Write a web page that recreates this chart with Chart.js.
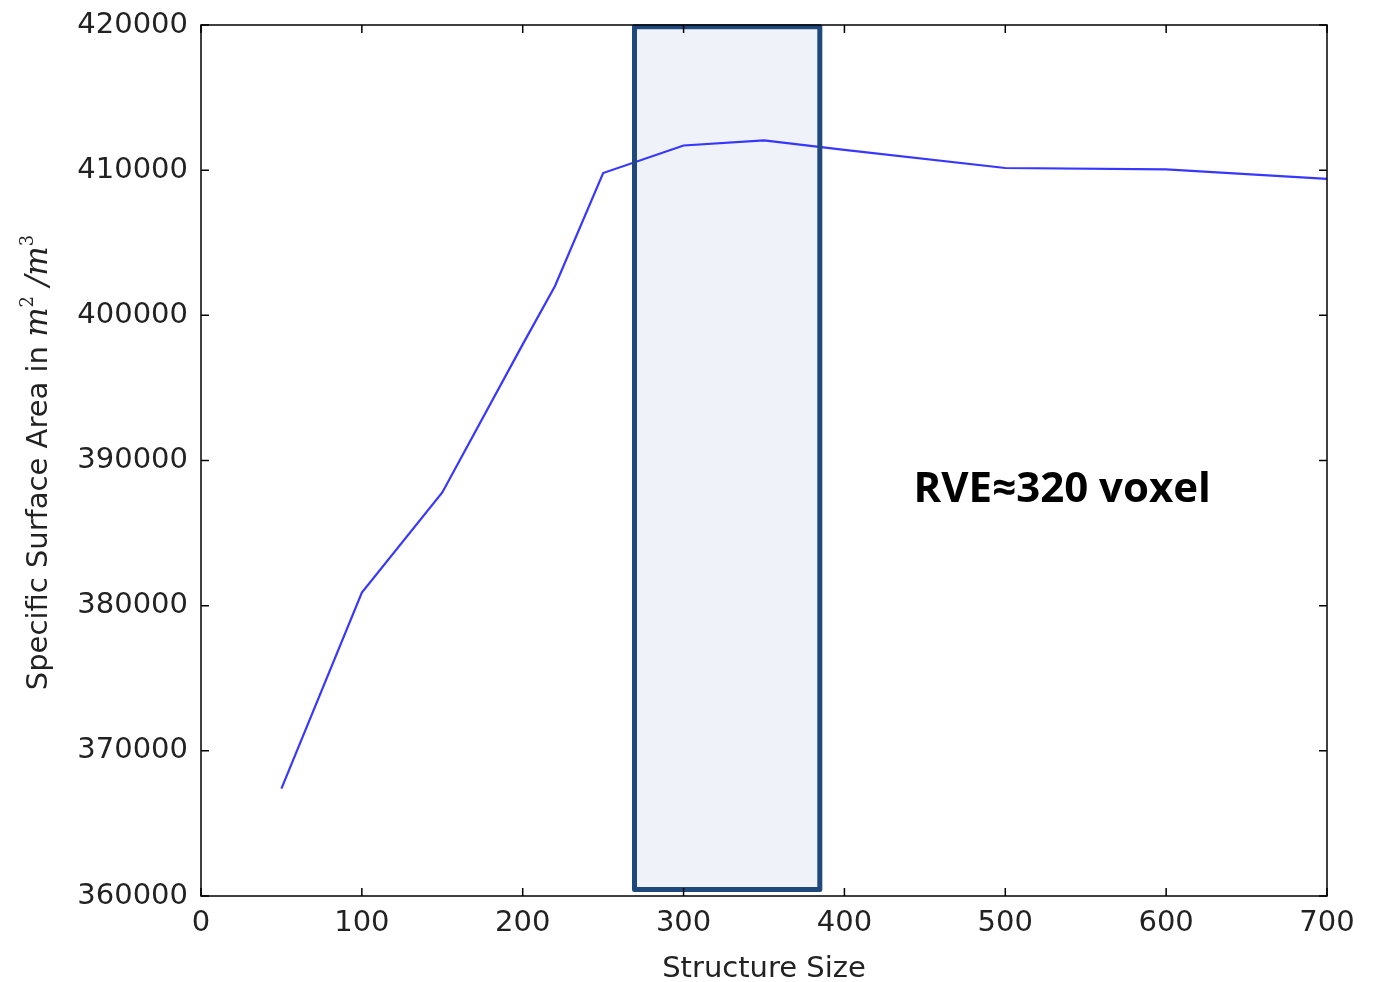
<!DOCTYPE html>
<html>
<head>
<meta charset="utf-8">
<script src="https://cdn.jsdelivr.net/npm/chart.js@4/dist/chart.umd.min.js"></script>
<style>
  html, body { margin: 0; padding: 0; background: #fff; }
  #wrap { width: 1376px; height: 982px; }
</style>
</head>
<body>
<div id="wrap"><canvas id="chart" width="1376" height="982"></canvas></div>
<script>
// structure size vs specific surface area
const sizes = [50, 100, 150, 200, 220, 250, 300, 350, 400, 500, 600, 700];
const surface = [367400, 380900, 387800, 398000, 402000, 409800, 411700, 412050, 411400, 410150, 410050, 409400];
const xTicks = [0, 100, 200, 300, 400, 500, 600, 700];
const yTicks = [360000, 370000, 380000, 390000, 400000, 410000, 420000];
// highlighted RVE range (data units)
const boxX = [269.5, 384.7];
const boxY = [360450, 419880];
const noteText = 'RVE\u2248320 voxel';
const notePos = [443, 387170];

const FONT = "'DejaVu Sans', sans-serif";

// inner ticks + frame, matplotlib style
const framePlugin = {
  id: 'frame',
  afterDraw(chart) {
    const { ctx, chartArea: a, scales: { x, y } } = chart;
    ctx.save();
    ctx.strokeStyle = '#000';
    ctx.lineWidth = 1.5;
    ctx.beginPath();
    xTicks.forEach(v => {
      const px = x.getPixelForValue(v);
      ctx.moveTo(px, a.bottom); ctx.lineTo(px, a.bottom - 8);
      ctx.moveTo(px, a.top); ctx.lineTo(px, a.top + 8);
    });
    yTicks.forEach(v => {
      const py = y.getPixelForValue(v);
      ctx.moveTo(a.left, py); ctx.lineTo(a.left + 8, py);
      ctx.moveTo(a.right, py); ctx.lineTo(a.right - 8, py);
    });
    ctx.stroke();
    ctx.strokeRect(a.left, a.top, a.right - a.left, a.bottom - a.top);
    ctx.restore();
  }
};

const boxPlugin = {
  id: 'rveBox',
  beforeDatasetsDraw(chart) {
    const { ctx, scales: { x, y } } = chart;
    const x0 = x.getPixelForValue(boxX[0]), x1 = x.getPixelForValue(boxX[1]);
    const y0 = y.getPixelForValue(boxY[1]), y1 = y.getPixelForValue(boxY[0]);
    ctx.save();
    ctx.fillStyle = '#eff3f9';
    ctx.fillRect(x0, y0, x1 - x0, y1 - y0);
    ctx.restore();
  },
  afterDatasetsDraw(chart) {
    const { ctx, scales: { x, y } } = chart;
    const x0 = x.getPixelForValue(boxX[0]), x1 = x.getPixelForValue(boxX[1]);
    const y0 = y.getPixelForValue(boxY[1]), y1 = y.getPixelForValue(boxY[0]);
    ctx.save();
    ctx.strokeStyle = '#1f497d';
    ctx.lineWidth = 5;
    ctx.lineJoin = 'round';
    ctx.strokeRect(x0, y0, x1 - x0, y1 - y0);
    // annotation text
    ctx.fillStyle = '#000';
    ctx.font = "bold 42px 'Open Sans', sans-serif";
    ctx.textAlign = 'left';
    ctx.textBaseline = 'alphabetic';
    ctx.fillText(noteText, x.getPixelForValue(notePos[0]), y.getPixelForValue(notePos[1]));
    ctx.restore();
  }
};

// y title with math part: "Specific Surface Area in m^2/m^3"
const yTitlePlugin = {
  id: 'yTitle',
  afterDraw(chart) {
    const { ctx, chartArea: a } = chart;
    const sans = '29px ' + FONT;
    const it = "italic 31px 'DejaVu Serif', serif";
    const sup = "18px 'DejaVu Serif', serif";
    const parts = [
      { t: 'Specific Surface Area in ', f: sans, dy: 0 },
      { t: 'm', f: it, dy: 0 },
      { t: '2', f: sup, dy: -14 },
      { t: ' /', f: it, dy: 0 },
      { t: 'm', f: it, dy: 0 },
      { t: '3', f: sup, dy: -14 }
    ];
    ctx.save();
    let total = 0;
    parts.forEach(p => { ctx.font = p.f; p.w = ctx.measureText(p.t).width; total += p.w; });
    ctx.translate(47, (a.top + a.bottom) / 2 + 2);
    ctx.rotate(-Math.PI / 2);
    ctx.fillStyle = '#222';
    ctx.textBaseline = 'alphabetic';
    let cx = -total / 2;
    parts.forEach(p => {
      ctx.font = p.f;
      ctx.fillText(p.t, cx, p.dy);
      cx += p.w;
    });
    ctx.restore();
  }
};

new Chart(document.getElementById('chart').getContext('2d'), {
  type: 'line',
  data: {
    datasets: [{
      data: sizes.map((s, i) => ({ x: s, y: surface[i] })),
      borderColor: 'rgba(20, 20, 255, 0.85)',
      borderWidth: 2.2,
      pointRadius: 0,
      tension: 0,
      fill: false
    }]
  },
  options: {
    responsive: false,
    animation: false,
    layout: { padding: { top: 25, right: 49, left: 0, bottom: 0 } },
    plugins: { legend: { display: false }, tooltip: { enabled: false } },
    scales: {
      x: {
        type: 'linear',
        min: 0, max: 700,
        afterFit(s) { s.height = 86; },
        afterBuildTicks(s) { s.ticks = xTicks.map(v => ({ value: v })); },
        grid: { display: false, drawTicks: false },
        border: { display: false },
        ticks: { color: '#222', font: { family: FONT, size: 29 }, padding: 10, maxRotation: 0 },
        title: { display: true, text: 'Structure Size', color: '#222', font: { family: FONT, size: 29 }, padding: { top: 2, bottom: -5 } }
      },
      y: {
        type: 'linear',
        min: 360000, max: 420000,
        afterFit(s) { s.width = 201; },
        afterBuildTicks(s) { s.ticks = yTicks.map(v => ({ value: v })); },
        grid: { display: false, drawTicks: false },
        border: { display: false },
        ticks: { color: '#222', font: { family: FONT, size: 29, lineHeight: 0.8 }, padding: 13, callback: v => String(v) }
      }
    }
  },
  plugins: [boxPlugin, framePlugin, yTitlePlugin]
});
</script>
</body>
</html>
